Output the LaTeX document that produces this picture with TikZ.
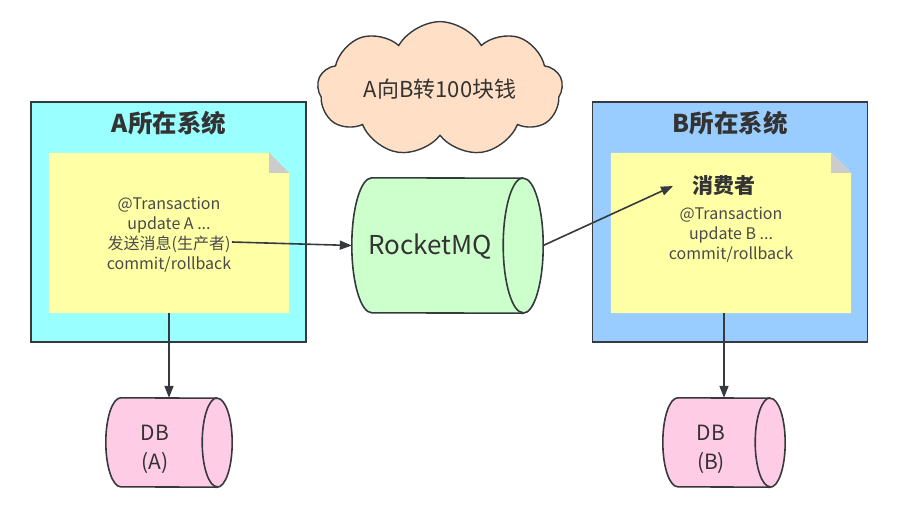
\documentclass[tikz,border=0pt]{standalone}
\usepackage{fontspec}
\setmainfont{Noto Sans CJK SC}
\usetikzlibrary{shapes.geometric,shapes.symbols,arrows.meta}
\definecolor{lineC}{HTML}{36393D}
\definecolor{boxA}{HTML}{99FFFF}
\definecolor{boxB}{HTML}{99CCFF}
\definecolor{noteY}{HTML}{FFFFA6}
\definecolor{foldG}{HTML}{CCCCCC}
\definecolor{mqG}{HTML}{CCFFCC}
\definecolor{dbP}{HTML}{FFCCE6}
\definecolor{cloudC}{HTML}{FFE0C6}
\definecolor{txtC}{HTML}{333333}
\definecolor{noteTxt}{HTML}{4A4A4A}
% horizontal cylinder drawn on a named rectangle node: name, rx, ry, fill
\newcommand\myhcyl[4]{%
  \draw[fill=#4,draw=lineC,line width=1.6pt]
    ([xshift=#2pt]#1.north west) arc[start angle=90,end angle=270,x radius=#2pt,y radius=#3pt]
    -- ([xshift=-#2pt]#1.south east) arc[start angle=-90,end angle=90,x radius=#2pt,y radius=#3pt]
    -- cycle;
  \draw[draw=lineC,line width=1.6pt]
    ([xshift=-#2pt]#1.north east) arc[start angle=90,end angle=270,x radius=#2pt,y radius=#3pt];
}
\begin{document}
\begin{tikzpicture}[x=1pt,y=-1pt,
  sysbox/.style={draw=lineC,line width=1.6pt,minimum width=275,minimum height=240,inner sep=0},
  titletxt/.style={font=\fontsize{24.5}{28}\selectfont\bfseries,text=txtC},
  notebox/.style={minimum width=240,minimum height=160,inner sep=0},
  notetxt/.style={font=\fontsize{16}{20}\selectfont,text=noteTxt,align=center},
  arr/.style={draw=lineC,line width=1.6pt,-{Triangle[length=12pt,width=9pt]}},
  cylbox/.style={rectangle,inner sep=0},
  dbtxt/.style={font=\fontsize{21}{29}\selectfont,text=txtC,align=center}
]
\useasboundingbox (0,0) rectangle (900,520);
\fill[white] (0,0) rectangle (900,520);

% system boxes
\node[sysbox,fill=boxA] (sysA) at (168.5,222) {};
\node[sysbox,fill=boxB] (sysB) at (730,222) {};
\node[titletxt] (tA) at (169,123) {A所在系统};
\node[titletxt] (tB) at (730,123) {B所在系统};

% notes
\node[notebox] (noteA) at (169,233) {};
\node[notebox] (noteB) at (731,233) {};
\foreach \n in {noteA,noteB}{
  \fill[noteY] (\n.north west) -- ([xshift=-20pt]\n.north east) -- ([yshift=-20pt]\n.north east) -- (\n.south east) -- (\n.south west) -- cycle;
  \fill[foldG] ([xshift=-20pt]\n.north east) -- ([xshift=-20pt,yshift=-20pt]\n.north east) -- ([yshift=-20pt]\n.north east) -- cycle;
}
\node[notetxt] (txtA) at (169,235) {@Transaction\\update A ...\\发送消息(生产者)\\commit/rollback};
\node[font=\fontsize{21}{24}\selectfont\bfseries,text=txtC] (consumer) at (724,186) {消费者};
\node[notetxt] (txtB) at (731,235) {@Transaction\\update B ...\\commit/rollback};

% cloud
\node[cloud,draw=lineC,line width=1.4pt,fill=cloudC,cloud puffs=9,cloud puff arc=120,aspect=2.2,minimum width=245,minimum height=112,inner sep=0,font=\fontsize{22}{26}\selectfont,text=txtC] (cloud) at (440,89) {A向B转100块钱};

% RocketMQ
\node[cylbox,minimum width=191,minimum height=135] (mq) at (447.5,245.5) {};
\myhcyl{mq}{20}{67.5}{mqG}
\node[font=\fontsize{26}{30}\selectfont,text=txtC] (mqtxt) at (430,247) {RocketMQ};

% DBs
\node[cylbox,minimum width=126,minimum height=89] (dbA) at (169,442.5) {};
\node[cylbox,minimum width=122,minimum height=89] (dbB) at (724,442.5) {};
\myhcyl{dbA}{15}{44.5}{dbP}
\myhcyl{dbB}{15}{44.5}{dbP}
\node[dbtxt] (dbAtxt) at (155,449) {DB\\(A)};
\node[dbtxt] (dbBtxt) at (711,449) {DB\\(B)};

% connectors
\coordinate (sendA) at (232,242);
\coordinate (recvB) at (673,186);
\draw[arr] (sendA) -- (mq.west);
\draw[arr] (mq.east) -- (recvB);
\draw[arr] (noteA.south) -- (dbA.north);
\draw[arr] (noteB.south -| dbB.north) -- (dbB.north);
\end{tikzpicture}
\end{document}
